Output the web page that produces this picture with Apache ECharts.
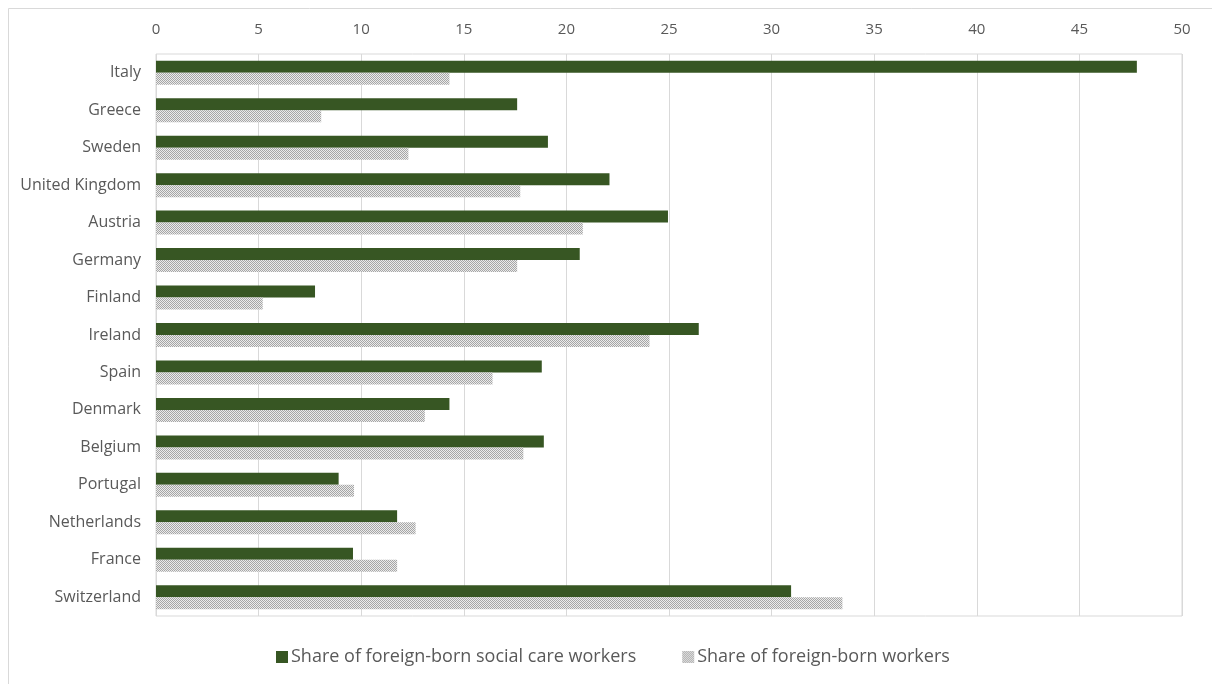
<!DOCTYPE html>
<html>
<head>
<meta charset="utf-8">
<script src="https://cdn.jsdelivr.net/npm/echarts@6/dist/echarts.min.js"></script>
<style>
html,body{margin:0;padding:0;background:#fff;}
#chart{width:1212px;height:684px;}
</style>
</head>
<body>
<div id="chart"></div>
<script>
const categories = ['Italy','Greece','Sweden','United Kingdom','Austria','Germany','Finland','Ireland','Spain','Denmark','Belgium','Portugal','Netherlands','France','Switzerland'];
const socialCareShare = [47.8, 17.6, 19.1, 22.1, 24.95, 20.65, 7.75, 26.45, 18.8, 14.3, 18.9, 8.9, 11.75, 9.6, 30.95];
const workersShare = [14.3, 8.05, 12.3, 17.75, 20.8, 17.6, 5.2, 24.05, 16.4, 13.1, 17.9, 9.65, 12.65, 11.75, 33.45];
const seriesNames = ['Share of foreign-born social care workers', 'Share of foreign-born workers'];
const xTicks = {min: 0, max: 50, interval: 5};

const pat = document.createElement('canvas');
pat.width = 2; pat.height = 2;
const pctx = pat.getContext('2d');
pctx.fillStyle = '#ebebeb'; pctx.fillRect(0,0,2,2);
pctx.fillStyle = '#a6a6a6'; pctx.fillRect(0,0,1,1); pctx.fillRect(1,1,1,1);

const chart = echarts.init(document.getElementById('chart'));
const font = '"Open Sans", "Liberation Sans", sans-serif';
chart.setOption({
  animation: false,
  backgroundColor: '#fff',
  textStyle: {fontFamily: font},
  graphic: [{
    type: 'rect', left: 6, top: 6, silent: true,
    shape: {width: 1205, height: 700},
    style: {fill: 'none', stroke: '#d9d9d9', lineWidth: 1}
  }],
  grid: {left: 156, right: 30, top: 54, bottom: 68, show: true, borderColor: '#d9d9d9', borderWidth: 1},
  legend: {
    bottom: 13, left: 271, itemWidth: 12, itemHeight: 12, itemGap: 46,
    icon: 'rect',
    textStyle: {fontSize: 18, color: '#595959', fontFamily: font, padding: [0,0,0,-2]},
    data: seriesNames
  },
  xAxis: {
    type: 'value', position: 'top', min: xTicks.min, max: xTicks.max, interval: xTicks.interval,
    axisLine: {show: false}, axisTick: {show: false},
    axisLabel: {color: '#595959', fontSize: 15, margin: 17, fontFamily: font},
    splitLine: {lineStyle: {color: '#d9d9d9', width: 1}}
  },
  yAxis: {
    type: 'category', data: categories, inverse: true,
    axisLine: {show: false}, axisTick: {show: false},
    axisLabel: {color: '#595959', fontSize: 16, margin: 15, fontFamily: font}
  },
  series: [
    {name: seriesNames[0], type: 'bar', data: socialCareShare, barWidth: 12, barGap: '0%',
     itemStyle: {color: '#375623'}},
    {name: seriesNames[1], type: 'bar', data: workersShare, barWidth: 12, barGap: '0%',
     itemStyle: {color: {image: pat, repeat: 'repeat'}}}
  ]
});
</script>
</body>
</html>
